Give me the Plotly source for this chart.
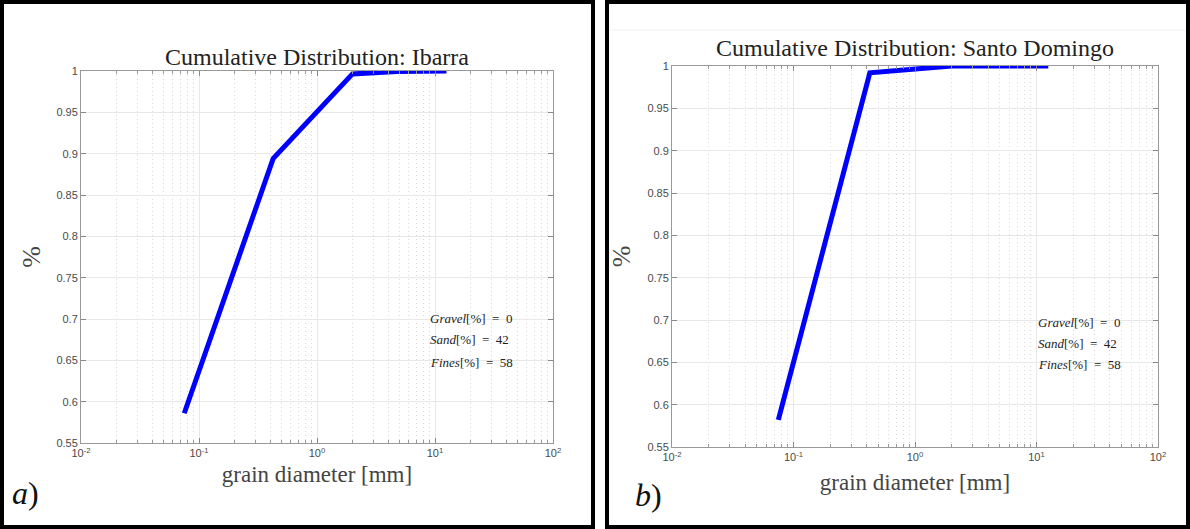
import plotly.graph_objects as go

# ---- data ----
diam_ibarra = [0.075, 0.425, 2.0, 4.75, 12.5]
cum_ibarra = [0.586, 0.894, 0.9965, 0.9995, 1.0]
diam_santo = [0.075, 0.425, 2.0, 4.75, 12.5]
cum_santo = [0.582, 0.992, 1.0, 1.0, 1.0]

titles = ["Cumulative Distribution: Ibarra", "Cumulative Distribution: Santo Domingo"]
x_ticks = [0.01, 0.1, 1, 10, 100]
x_ticktext = ["10<sup>-2</sup>", "10<sup>-1</sup>", "10<sup>0</sup>", "10<sup>1</sup>", "10<sup>2</sup>"]
y_ticks = [0.55, 0.6, 0.65, 0.7, 0.75, 0.8, 0.85, 0.9, 0.95, 1.0]
y_ticktext = ["0.55", "0.6", "0.65", "0.7", "0.75", "0.8", "0.85", "0.9", "0.95", "1"]
minor_ticks = [m * 10.0 ** e for e in range(-2, 2) for m in range(2, 10)]
stats = ["<i>Gravel</i>[%]  =  0", "<i>Sand</i>[%]  =  42", "<i>Fines</i>[%]  =  58"]
panel_labels = ["<i>a</i>)", "<i>b</i>)"]

W, H = 1190, 529
serif = "Liberation Serif"
sans = "Liberation Sans"

fig = go.Figure()
fig.add_trace(go.Scatter(x=diam_ibarra, y=cum_ibarra, mode="lines",
                         line=dict(color="#0000FF", width=5), xaxis="x", yaxis="y",
                         showlegend=False))
fig.add_trace(go.Scatter(x=diam_santo, y=cum_santo, mode="lines",
                         line=dict(color="#0000FF", width=5), xaxis="x2", yaxis="y2",
                         showlegend=False))

# axis pixel geometry
axes_px = [
    dict(x0=81, x1=553, ytop=71, ybot=443, xstand=7, ystand=8),
    dict(x0=672, x1=1158, ytop=66, ybot=447, xstand=11, ystand=9),
]

def xdom(a):
    return [a["x0"] / W, a["x1"] / W]

def ydom(a):
    return [(H - a["ybot"]) / H, (H - a["ytop"]) / H]

def make_x(a, anchor):
    return dict(
        type="log", range=[-2, 2], tickvals=x_ticks, ticktext=x_ticktext,
        ticks="inside", ticklen=5, tickcolor="#888888", automargin=False,
        showline=True, linecolor="#999999", linewidth=1, mirror="allticks",
        showgrid=True, gridcolor="#e8e8e8", gridwidth=1, zeroline=False,
        tickfont=dict(family=sans, size=11, color="#4a4a4a"),
        minor=dict(tickvals=minor_ticks, ticks="inside", ticklen=3, tickcolor="#999999",
                   showgrid=True, gridcolor="#d9d9d9", griddash="1px,3px", gridwidth=1),
        title=dict(text="grain diameter [mm]", font=dict(family=serif, size=23, color="#444444"),
                   standoff=a["xstand"]),
        domain=xdom(a), anchor=anchor,
    )

def make_y(a, anchor):
    return dict(
        range=[0.55, 1.0], tickvals=y_ticks, ticktext=y_ticktext,
        ticks="inside", ticklen=5, tickcolor="#888888", automargin=False,
        showline=True, linecolor="#999999", linewidth=1, mirror="allticks",
        showgrid=True, gridcolor="#e8e8e8", gridwidth=1, zeroline=False,
        tickfont=dict(family=sans, size=11, color="#4a4a4a"),
        title=dict(text="%", font=dict(family=serif, size=26, color="#444444"),
                   standoff=a["ystand"]),
        domain=ydom(a), anchor=anchor,
    )

fig.update_layout(
    width=W, height=H, margin=dict(l=0, r=0, t=0, b=0),
    paper_bgcolor="white", plot_bgcolor="white",
    xaxis=make_x(axes_px[0], "y"),
    yaxis=make_y(axes_px[0], "x"),
    xaxis2=make_x(axes_px[1], "y2"),
    yaxis2=make_y(axes_px[1], "x2"),
)

# panel frames
frames = [(2, 593), (607, 1188)]
for fx0, fx1 in frames:
    fig.add_shape(type="rect", xref="paper", yref="paper",
                  x0=fx0 / W, x1=fx1 / W, y0=2 / H, y1=(H - 2) / H,
                  line=dict(color="black", width=4), fillcolor="rgba(0,0,0,0)")
# faint line in right panel
fig.add_shape(type="line", xref="paper", yref="paper",
              x0=609 / W, x1=1186 / W, y0=(H - 30) / H, y1=(H - 30) / H,
              line=dict(color="#f2f2f2", width=1))

# titles
title_y = [57, 48]
for i, a in enumerate(axes_px):
    fig.add_annotation(text=titles[i], xref="paper", yref="paper",
                       x=(a["x0"] + a["x1"]) / 2 / W, y=(H - title_y[i]) / H,
                       showarrow=False, xanchor="center", yanchor="middle",
                       font=dict(family=serif, size=24, color="#222222"))

# stats text
stat_pos = [(428, [318, 340, 362]), (1036, [322, 343, 364])]
for i, (sx, sys_) in enumerate(stat_pos):
    for t, sy in zip(stats, sys_):
        fig.add_annotation(text=t, xref="paper", yref="paper",
                           x=sx / W, y=(H - sy) / H, showarrow=False,
                           xanchor="left", yanchor="middle",
                           font=dict(family=serif, size=13, color="#222222"))

# panel labels
lab_pos = [(10, 493), (633, 495)]
for t, (lx, ly) in zip(panel_labels, lab_pos):
    fig.add_annotation(text=t, xref="paper", yref="paper",
                       x=lx / W, y=(H - ly) / H, showarrow=False,
                       xanchor="left", yanchor="middle",
                       font=dict(family=serif, size=32, color="#111111"))

fig.write_html("out.html")
